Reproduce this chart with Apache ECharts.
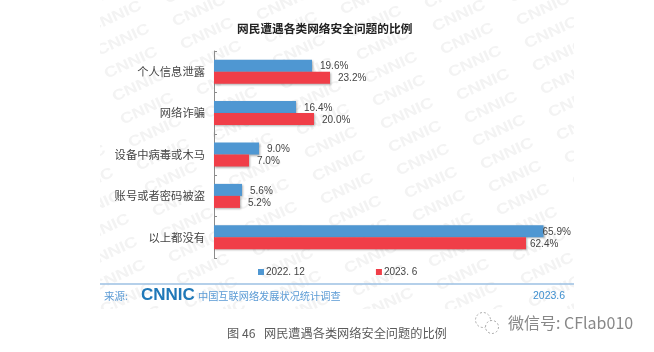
<!DOCTYPE html>
<html><head><meta charset="utf-8">
<style>html,body{margin:0;padding:0;background:#fff}#c{width:654px;height:352px}</style>
<script src="https://cdn.jsdelivr.net/npm/echarts@6/dist/echarts.min.js"></script>
</head><body><div id="c"></div>
<script>
const categories = ['个人信息泄露','网络诈骗','设备中病毒或木马','账号或者密码被盗','以上都没有'];
const series2022 = [19.6,16.4,9.0,5.6,65.9];
const series2023 = [23.2,20.0,7.0,5.2,62.4];
const seriesNames = ['2022. 12','2023. 6'];
const font = '"Noto Sans CJK SC","Liberation Sans",sans-serif';
const chart = echarts.init(document.getElementById('c'));

const graphic = [];
// watermark lattice, clipped to the picture panel by white masks
for (let i=-3;i<10;i++) for (let j=-3;j<18;j++){
  const x = 115 + i*84 + j*8, y = 17 - i*6 + j*23;
  if (x<70||x>610||y<-20||y>330) continue;
  graphic.push({type:'text',z:-6,x,y,rotation:25*Math.PI/180,scaleX:1.2,
    style:{text:'CNNIC',font:'bold 15px "Liberation Sans"',fill:'#f3f3f3',align:'center',verticalAlign:'middle'}});
}
[[0,0,100,352],[574,0,80,352],[100,309,474,43]].forEach(r=>graphic.push({type:'rect',z:-5,
  shape:{x:r[0],y:r[1],width:r[2],height:r[3]},style:{fill:'#fff'}}));
const T=(text,x,y,o={})=>graphic.push({type:'text',x,y,z:5,style:Object.assign({text,font:'12px '+font,fill:'#444',align:'left',verticalAlign:'middle'},o)});
graphic.push({type:'line',z:5,shape:{x1:100,y1:284,x2:574,y2:284},style:{stroke:'#9dc1e3',lineWidth:1.5}});
T('来源:',104,296,{font:'10.5px '+font,fill:'#5b9bd5'});
T('CNNIC',141,295.5,{font:'bold 17px "Liberation Sans"',fill:'#1f78b8'});
T('中国互联网络发展状况统计调查',198,296,{font:'10.2px '+font,fill:'#5b9bd5'});
T('2023.6',533,296,{font:'10.5px "Liberation Sans"',fill:'#3f8fcf'});
T('图 46',227,333,{font:'12.2px '+font,fill:'#5a5a5a'});
T('网民遭遇各类网络安全问题的比例',264,333,{font:'12.2px '+font,fill:'#5a5a5a'});
T('微信号: CFlab010',508,323,{font:'16px '+font,fill:'#888'});
graphic.push({type:'circle',z:5,shape:{cx:483,cy:320,r:7.5},style:{fill:'none',stroke:'#aaa',lineDash:[2,2]}});
graphic.push({type:'circle',z:5,shape:{cx:492,cy:327,r:6.5},style:{fill:'#fff',stroke:'#aaa',lineDash:[2,2]}});

const lab = {show:true,position:'right',distance:8,offset:[0,1],fontSize:10,color:'#444',
  fontFamily:'"Liberation Sans"',formatter:p=>p.value.toFixed(1)+'%'};
const shadow = {shadowColor:'rgba(0,0,0,.3)',shadowBlur:2,shadowOffsetX:1,shadowOffsetY:1};
const withLastLabel = (arr,d)=>arr.map((v,i)=>i===arr.length-1?{value:v,label:{distance:d}}:v);

chart.setOption({
  animation:false,
  backgroundColor:'#fff',
  title:{text:'网民遭遇各类网络安全问题的比例',left:237,top:23,padding:0,
    textStyle:{fontSize:11.7,fontWeight:'bold',color:'#222',fontFamily:font}},
  legend:{left:258,top:267,padding:0,itemWidth:6,itemHeight:6,itemGap:71,icon:'rect',
    textStyle:{fontSize:10,color:'#444',fontFamily:'"Liberation Sans"',padding:[0,0,0,-3]},
    data:seriesNames},
  grid:{left:214,top:51,width:350,height:207},
  xAxis:{type:'value',min:0,max:70,show:false},
  yAxis:{type:'category',inverse:true,data:categories,
    axisLine:{lineStyle:{color:'#8c8c8c',width:1}},
    axisTick:{show:true,inside:true,length:3,lineStyle:{color:'#8c8c8c'}},
    axisLabel:{fontSize:11.3,color:'#444',margin:9,fontFamily:font}},
  series:[
    {name:seriesNames[0],type:'bar',data:withLastLabel(series2022,-1),barWidth:12,barGap:'0%',
     itemStyle:Object.assign({color:'#4f97d2'},shadow),label:lab},
    {name:seriesNames[1],type:'bar',data:withLastLabel(series2023,4),barWidth:12,
     itemStyle:Object.assign({color:'#f03e48'},shadow),label:lab}
  ],
  graphic:{elements:graphic}
});
</script></body></html>
